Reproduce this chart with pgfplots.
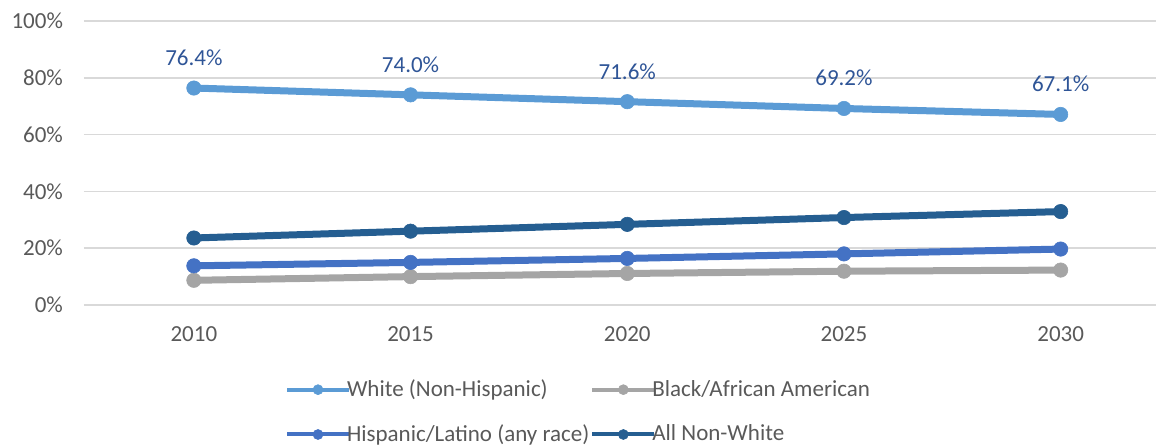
\documentclass[border=0pt]{standalone}
\usepackage{fontspec}
\setmainfont{Carlito}
\usepackage{pgfplots}
\pgfplotsset{compat=1.18}
\definecolor{cWhite}{HTML}{5B9BD5}
\definecolor{cBlack}{HTML}{A5A5A5}
\definecolor{cHisp}{HTML}{4472C4}
\definecolor{cNonW}{HTML}{255E91}
\definecolor{cText}{HTML}{595959}
\definecolor{cGrid}{HTML}{D9D9D9}
\definecolor{cLab}{HTML}{2F5597}
\begin{document}
\begin{tikzpicture}[font=\fontsize{11.5}{14}\selectfont]
\useasboundingbox (-42pt,-71pt) rectangle (536pt,152.5pt);
\begin{axis}[
  at={(0,0)}, anchor=south west,
  scale only axis, width=536pt, height=142pt,
  xmin=-0.507, xmax=4.44, ymin=0, ymax=100,
  xtick={0,1,2,3,4}, xticklabels={2010,2015,2020,2025,2030},
  ytick={0,20,40,60,80,100}, yticklabels={0\%,20\%,40\%,60\%,80\%,100\%},
  axis line style={draw=none}, major tick length=0pt,
  ymajorgrids, grid style={cGrid, line width=0.75pt},
  tick label style={text=cText},
  yticklabel style={xshift=-7pt},
  xticklabel style={yshift=-7pt},
  clip=false,
  every axis plot/.append style={line width=3.5pt, mark=*, mark size=3.6pt},
  legend image code/.code={\draw[#1, line width=2pt, mark size=2.5pt, mark repeat=2, mark phase=2] plot coordinates {(0pt,0pt) (15.5pt,0pt) (31pt,0pt)};},
  legend columns=2,
  legend style={draw=none, fill=none, at={(0.4608,-0.377)}, anchor=center,
    text=cText, nodes={inner sep=0.5pt}, row sep=11.5pt,
    /tikz/every odd column/.append style={column sep=-2.5pt}},
  legend cell align=left,
]
\addplot[cWhite, mark options={fill=cWhite, draw=cWhite, line width=0.3pt},
  nodes near coords={\pgfmathprintnumber[fixed,precision=1,fixed zerofill,assume math mode=true]{\pgfplotspointmeta}\%},
  every node near coord/.append style={anchor=south, inner sep=0pt, yshift=11pt, text=cLab, font=\fontsize{11.5}{14}\selectfont}]
  coordinates {(0,76.4) (1,74.0) (2,71.6) (3,69.2) (4,67.1)};
\addlegendentry{White (Non-Hispanic)}
\addplot[cBlack, mark options={fill=cBlack, draw=cBlack, line width=0.3pt}]
  coordinates {(0,8.7) (1,10.0) (2,11.1) (3,11.9) (4,12.3)};
\addlegendentry{Black/African American}
\addplot[cHisp, mark options={fill=cHisp, draw=cHisp, line width=0.3pt}]
  coordinates {(0,13.8) (1,15.0) (2,16.4) (3,18.0) (4,19.7)};
\addlegendentry{Hispanic/Latino (any race)}
\addplot[cNonW, mark options={fill=cNonW, draw=cNonW, line width=0.3pt}]
  coordinates {(0,23.6) (1,26.0) (2,28.4) (3,30.8) (4,32.9)};
\addlegendentry{All Non-White}
\end{axis}
\end{tikzpicture}
\end{document}
